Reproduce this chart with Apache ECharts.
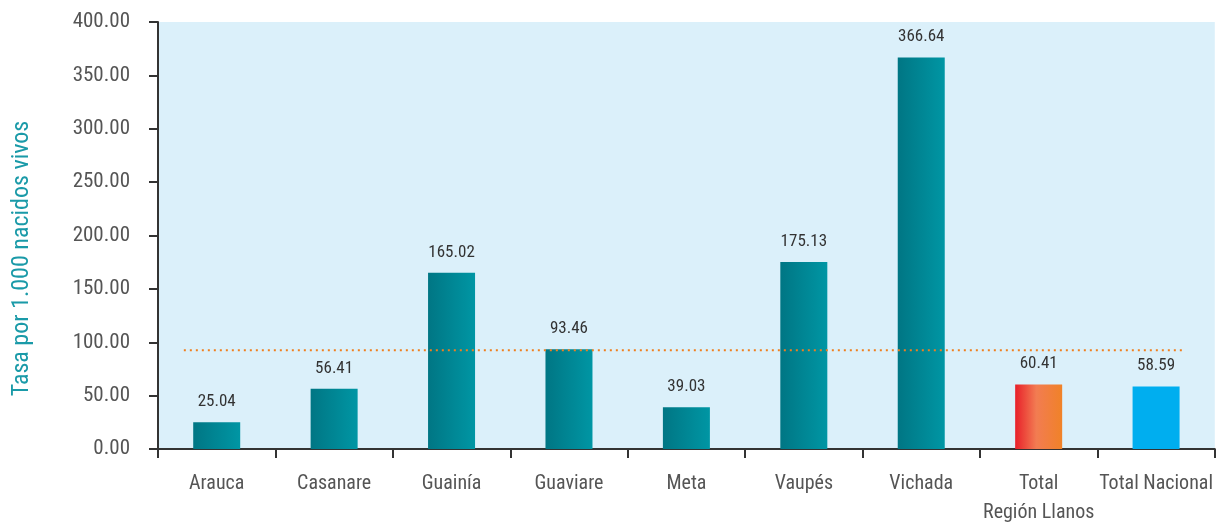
<!DOCTYPE html>
<html>
<head>
<meta charset="utf-8">
<script src="https://cdn.jsdelivr.net/npm/echarts@6/dist/echarts.min.js"></script>
<style>
  html, body { margin: 0; padding: 0; background: #fff; }
  #chart { width: 1216px; height: 527px; }
</style>
</head>
<body>
<div id="chart"></div>
<script>
const categories = ['Arauca', 'Casanare', 'Guainía', 'Guaviare', 'Meta', 'Vaupés', 'Vichada', 'Total\nRegión Llanos', 'Total Nacional'];
const rates = [25.04, 56.41, 165.02, 93.46, 39.03, 175.13, 366.64, 60.41, 58.59];
const refValue = 92.5;
const refSpan = [-0.28, 8.25];
const yTicks = [0, 50, 100, 150, 200, 250, 300, 350, 400];

const font = "'Liberation Sans Narrow', 'Roboto Condensed', 'DejaVu Sans Condensed', sans-serif";

const teal = new echarts.graphic.LinearGradient(0, 0, 1, 0, [
  { offset: 0, color: '#007684' },
  { offset: 1, color: '#0096a4' }
]);
const warm = new echarts.graphic.LinearGradient(0, 0, 1, 0, [
  { offset: 0, color: '#e8202a' },
  { offset: 0.45, color: '#f27c52' },
  { offset: 1, color: '#f08228' }
]);

const barData = rates.map(function (v, i) {
  let color = teal;
  if (i === 7) color = warm;
  if (i === 8) color = '#00aeef';
  return { value: v, itemStyle: { color: color } };
});

const chart = echarts.init(document.getElementById('chart'));

const option = {
  backgroundColor: '#ffffff',
  animation: false,
  grid: {
    left: 158, right: 1, top: 22, bottom: 77,
    show: true, backgroundColor: '#dbf0fa', borderWidth: 0
  },
  xAxis: [{
    type: 'category',
    data: categories,
    axisLine: { lineStyle: { color: '#333', width: 2 } },
    axisTick: { show: true, length: 9, lineStyle: { color: '#333', width: 2 } },
    axisLabel: {
      color: '#555', fontSize: 20, fontFamily: font, margin: 20, lineHeight: 29,
      interval: 0
    },
    splitLine: { show: false }
  }, {
    type: 'value',
    min: -0.5, max: 8.5,
    show: false
  }],
  yAxis: {
    type: 'value',
    min: yTicks[0], max: yTicks[yTicks.length - 1], interval: 50,
    name: 'Tasa por 1.000 nacidos vivos',
    nameLocation: 'middle',
    nameGap: 124,
    nameTextStyle: { color: '#1a9aa8', fontSize: 24, fontFamily: font, padding: [0, 46, 0, 0] },
    axisLine: { show: true, onZero: false, lineStyle: { color: '#333', width: 2 } },
    axisTick: { show: true, length: 9, lineStyle: { color: '#333', width: 2 } },
    axisLabel: {
      color: '#555', fontSize: 21, fontFamily: font, margin: 28,
      formatter: function (v) { return v.toFixed(2); }
    },
    splitLine: { show: false }
  },
  series: [{
    type: 'bar',
    data: barData,
    barWidth: 47,
    xAxisIndex: 0,
    label: {
      show: true, position: 'top', distance: 12,
      color: '#333', fontSize: 17, fontFamily: font,
      formatter: function (p) { return p.value.toFixed(2); }
    },
    z: 2
  }, {
    type: 'line',
    xAxisIndex: 1,
    data: [[refSpan[0], refValue], [refSpan[1], refValue]],
    symbol: 'none',
    lineStyle: { color: '#f07f1e', width: 2, type: [2, 4] },
    z: 3,
    silent: true
  }]
};

chart.setOption(option);
</script>
</body>
</html>
